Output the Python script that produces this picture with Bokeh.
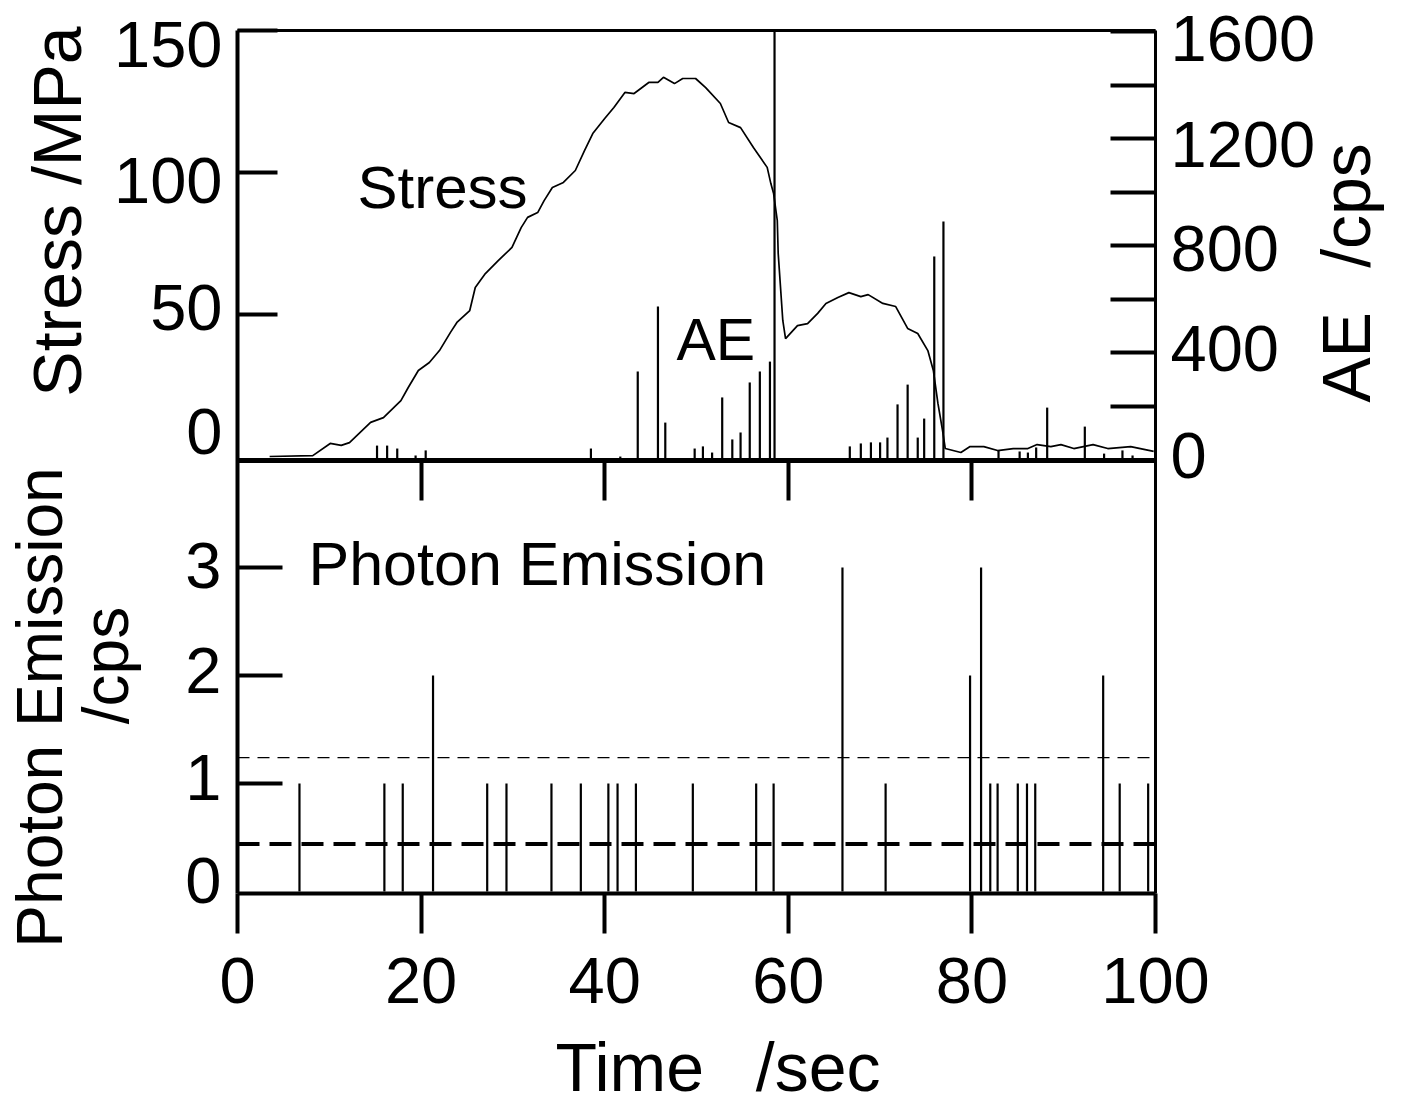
import math
from bokeh.plotting import figure
from bokeh.models import Range1d, LinearAxis, FixedTicker, Label, ColumnDataSource
from bokeh.core.properties import value
from bokeh.embed import file_html
from bokeh.resources import INLINE

# ---------------- data ----------------
stress_time = [3.5, 8.2, 10.1, 11.3, 12.2, 14.5, 15.9, 17.8, 18.6, 19.7, 20.9, 22.0,
               23.2, 23.9, 25.3, 25.9, 27.0, 28.4, 29.9, 30.9, 31.6, 32.7, 33.4, 34.3,
               35.5, 36.8, 37.8, 38.7, 40.0, 41.0, 42.2, 43.2, 44.8, 45.8, 46.4, 47.6,
               48.5, 49.9, 51.0, 52.6, 53.5, 54.8, 56.2, 57.7, 58.1, 58.4, 58.8, 58.9,
               59.4, 59.7, 61.0, 62.1, 63.2, 64.1, 65.4, 66.6, 67.9, 68.7, 70.3, 71.7,
               73.0, 74.1, 75.2, 75.8, 76.3, 76.8, 77.1, 78.8, 79.8, 81.3, 82.8, 84.5,
               86.1, 87.1, 88.6, 89.7, 91.1, 93.2, 94.8, 97.3, 99.8]
stress_mpa = [0.0, 0.3, 4.6, 3.9, 4.9, 12.0, 13.7, 19.7, 24.3, 30.3, 33.1, 37.3,
              43.7, 47.2, 51.4, 59.5, 64.4, 69.0, 73.6, 80.6, 84.2, 85.9, 90.1, 94.7,
              96.5, 100.7, 107.7, 113.7, 119.0, 122.9, 128.2, 127.8, 131.7, 131.7, 133.5, 131.3,
              133.1, 133.1, 129.9, 124.3, 117.6, 115.8, 108.8, 101.8, 96.1, 92.6, 83.1, 71.5,
              47.9, 41.5, 46.1, 46.8, 50.4, 53.9, 56.0, 57.7, 56.3, 57.0, 53.9, 52.8,
              45.1, 43.3, 37.3, 30.3, 18.7, 9.2, 2.8, 1.4, 3.5, 3.5, 2.1, 2.8,
              2.8, 4.2, 3.5, 4.2, 2.8, 4.2, 2.8, 3.5, 1.8]

ae_time = [15.2, 16.3, 17.4, 19.4, 20.5, 38.5, 41.7, 43.6, 45.8, 46.6,
           49.8, 50.7, 51.7, 52.8, 53.9, 54.8, 55.8, 56.9, 58.0, 58.5,
           66.7, 67.9, 69.0, 70.0, 70.8, 71.9, 73.0, 74.1, 74.8, 75.9,
           76.9, 82.9, 85.2, 86.1, 87.0, 88.2, 92.3, 94.4, 96.4, 97.5]
ae_cps = [52, 52, 41, 15, 34, 41, 11, 329, 572, 138,
          41, 49, 26, 232, 75, 101, 288, 329, 366, 1600,
          49, 60, 64, 64, 82, 206, 280, 82, 153, 759,
          890, 34, 30, 26, 45, 194, 123, 22, 34, 15]

pe_time = [6.75, 16.0, 18.0, 21.3, 27.2, 29.3, 34.2, 37.4, 40.4, 41.4, 43.4, 49.6,
           56.5, 58.4, 65.9, 70.6, 79.8, 81.0, 82.0, 82.8, 85.0, 86.0, 86.9, 94.3,
           96.1, 99.2]
pe_cps = [1, 1, 1, 2, 1, 1, 1, 1, 1, 1, 1, 1,
          1, 1, 3, 1, 2, 3, 1, 1, 1, 1, 1, 2,
          1, 1]
pe_mean_level = 0.44
pe_threshold_level = 1.24

time_ticks = [0, 20, 40, 60, 80, 100]
inner_time_ticks = [20, 40, 60, 80]
stress_ticks = [0, 50, 100, 150]
ae_major_ticks = [0, 400, 800, 1200, 1600]
ae_minor_ticks = [200, 600, 1000, 1400]
pe_ticks = [0, 1, 2, 3]

# ---------------- layout (pixels) ----------------
W, H = 1400, 1104
BOX_L, BOX_R = 237, 1155          # time 0 / 100
BOX_T, BOX_MID, BOX_B = 30, 460, 893
STRESS_CAL = (0, 456, 150, 30)    # value, px, value, px
AE_CAL = (0, 459, 1600, 31)
PE_CAL = (0, 891, 3, 567)
TIME_CAL = (time_ticks[0], BOX_L, time_ticks[-1], BOX_R)

# small vertical shifts of the printed tick labels (as in the scanned figure), px
STRESS_LABEL_DY = [-25, -7, 8, 14]
AE_LABEL_DY = [-4, -4, 3, 6, 7]
PE_LABEL_DY = [-11, -6, -5, -2]

FONT = "Liberation Sans"
TICK_FS = "65px"
TITLE_FS = "68px"


def px_to_val(cal, px):
    v0, p0, v1, p1 = cal
    return v0 + (v1 - v0) * (px - p0) / (p1 - p0)


def yrange(cal):
    return Range1d(px_to_val(cal, H), px_to_val(cal, 0))


tx = lambda px: px_to_val(TIME_CAL, px)
ty = lambda py: px_to_val(PE_CAL, py)      # default (photon) y coordinates

p = figure(width=W, height=H, x_range=Range1d(tx(0), tx(W)), y_range=yrange(PE_CAL),
           output_backend="svg", toolbar_location=None,
           x_axis_location=None, y_axis_location=None,
           min_border_left=0, min_border_right=0, min_border_top=0, min_border_bottom=0)
p.extra_y_ranges = {"stress": yrange(STRESS_CAL), "ae": yrange(AE_CAL)}
p.grid.visible = False
p.outline_line_color = None
p.background_fill_color = "white"
p.border_fill_color = "white"


def make_axis(side, ticks, fixed, bounds, tick_in=0, tick_out=0, standoff=14,
              line_width=4, labels=False, minor=None, **kw):
    ticker = FixedTicker(ticks=ticks, minor_ticks=minor or [])
    ax = LinearAxis(ticker=ticker, fixed_location=fixed, bounds=bounds, **kw)
    ax.axis_line_width = line_width
    ax.axis_line_color = "black"
    ax.major_tick_in = tick_in
    ax.major_tick_out = tick_out
    ax.major_tick_line_width = 4
    ax.major_tick_line_color = "black"
    ax.minor_tick_in = tick_in if minor else 0
    ax.minor_tick_out = 0
    ax.minor_tick_line_width = 4
    ax.minor_tick_line_color = "black"
    ax.major_label_text_font = FONT
    ax.major_label_text_font_size = TICK_FS
    ax.major_label_text_color = "black" if labels else None
    ax.major_label_standoff = standoff
    p.add_layout(ax, side)
    return ax


t_left, t_right = time_ticks[0], time_ticks[-1]
pe_bottom, pe_mid, pe_top = ty(BOX_B), ty(BOX_MID), ty(BOX_T)

# left: photon emission (lower panel) and stress (upper panel); the zero ticks merge with the frame
make_axis("left", pe_ticks[1:], t_left, (pe_bottom, pe_top), tick_in=45)
make_axis("left", stress_ticks[1:], t_left,
          (px_to_val(STRESS_CAL, BOX_MID), px_to_val(STRESS_CAL, BOX_T)),
          tick_in=40, line_width=0.01, y_range_name="stress")
# right: AE
make_axis("right", ae_major_ticks[1:], t_right,
          (px_to_val(AE_CAL, BOX_B), px_to_val(AE_CAL, BOX_T)),
          tick_in=45, line_width=3, minor=ae_minor_ticks, y_range_name="ae")
# bottom: time
make_axis("below", time_ticks, pe_bottom, (t_left, t_right), tick_out=40, standoff=24,
          labels=True)
# separator between the panels with downward ticks
make_axis("below", inner_time_ticks, pe_mid, (t_left, t_right), tick_out=40, line_width=5)
# top border
make_axis("above", [], pe_top, (t_left, t_right), line_width=3)

# tick labels of the vertical axes (text glyphs on the axis scales)
txt = dict(text_font=value(FONT), text_font_size=value(TICK_FS), text_color="black",
           text_baseline="middle")
p.text(x="x", y="y", text="t", y_offset="dy", x_offset=-15, text_align="right",
       y_range_name="stress",
       source=ColumnDataSource(dict(x=[t_left] * len(stress_ticks), y=stress_ticks,
                                    t=[str(v) for v in stress_ticks], dy=STRESS_LABEL_DY)), **txt)
p.text(x="x", y="y", text="t", y_offset="dy", x_offset=15, text_align="left",
       y_range_name="ae",
       source=ColumnDataSource(dict(x=[t_right] * len(ae_major_ticks), y=ae_major_ticks,
                                    t=[str(v) for v in ae_major_ticks], dy=AE_LABEL_DY)), **txt)
p.text(x="x", y="y", text="t", y_offset="dy", x_offset=-16, text_align="right",
       source=ColumnDataSource(dict(x=[t_left] * len(pe_ticks), y=pe_ticks,
                                    t=[str(v) for v in pe_ticks], dy=PE_LABEL_DY)), **txt)

# ---------------- data marks ----------------
p.segment(x0=ae_time, y0=[0] * len(ae_time), x1=ae_time, y1=ae_cps,
          y_range_name="ae", line_color="black", line_width=2.2)
p.line(stress_time, stress_mpa, y_range_name="stress", line_color="black", line_width=1.7)

p.line([t_left, t_right], [pe_threshold_level] * 2, line_color="black",
       line_width=1.4, line_dash="12 8")
p.line([t_left, t_right], [pe_mean_level] * 2, line_color="black",
       line_width=4, line_dash="22 10")
p.segment(x0=pe_time, y0=[0] * len(pe_time), x1=pe_time, y1=pe_cps,
          line_color="black", line_width=2.2)


# ---------------- texts (x_px/y_px: anchor, y at the middle of the capitals) ----------------
def label(text, x_px, y_px, size, align="left", angle=0.0):
    p.add_layout(Label(x=tx(x_px), y=ty(y_px), text=text, angle=angle,
                       text_font=FONT, text_font_size=size, text_color="black",
                       text_align=align, text_baseline="middle"))


UP = math.pi / 2
label("Stress", 357, 187, "60px")
label("AE", 676, 339, "59px")
label("Photon Emission", 308, 563, "61px")
label("Stress /MPa", 56, 211, TITLE_FS, "center", UP)
label("AE", 1345, 357, TITLE_FS, "center", UP)
label("/cps", 1345, 205, TITLE_FS, "center", UP)
label("Photon Emission", 39, 707, "64px", "center", UP)
label("/cps", 105, 665, "64px", "center", UP)
label("Time", 555, 1066, TITLE_FS, "left")
label("/sec", 880, 1066, TITLE_FS, "right")

open("out.html", "w").write(file_html(p, INLINE))
